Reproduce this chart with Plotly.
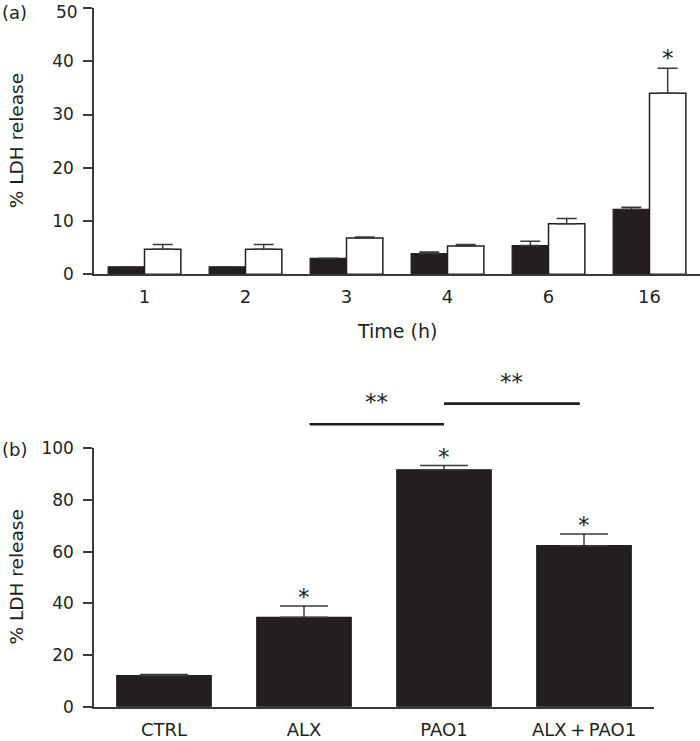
import plotly.graph_objects as go

# ---------------- data ----------------
# Panel (a)
time_labels = ["1", "2", "3", "4", "6", "16"]
black_a = [1.4, 1.4, 3.0, 3.9, 5.4, 12.2]
black_a_err = [0.0, 0.0, 0.0, 0.3, 0.8, 0.4]
white_a = [4.7, 4.7, 6.8, 5.3, 9.5, 34.0]
white_a_err = [0.9, 0.9, 0.2, 0.3, 1.0, 4.7]
star_a = ["", "", "", "", "", "*"]
yticks_a = [0, 10, 20, 30, 40, 50]

# Panel (b)
groups_b = ["CTRL", "ALX", "PAO1", "ALX\u2009+\u2009PAO1"]
vals_b = [12.0, 34.6, 91.7, 62.3]
err_b = [0.5, 4.4, 1.6, 4.5]
star_b = ["", "*", "*", "*"]
yticks_b = [0, 20, 40, 60, 80, 100]

# significance brackets (panel b): start index, end index, height, label
br_start = [1.04, 2.0]
br_end = [2.0, 2.97]
br_height = [109.3, 117.3]
br_label = ["**", "**"]

# ---------------- style ----------------
W, H = 700, 741
FONT = "DejaVu Sans"
INK = "#231f20"
AXC = "#3a3a3a"
TICK_SIZE = 17

ya_max, yb_max = yticks_a[-1], yticks_b[-1]
xa_dom = [94 / W, 1.0]
ya_dom = [1 - 274.3 / H, 1 - 8 / H]
xb_dom = [94 / W, 654 / W]
yb_dom = [1 - 706.7 / H, 1 - 448.3 / H]

fig = go.Figure()

wa = 0.36
fig.add_trace(go.Bar(
    x=time_labels, y=black_a, width=wa, offset=-wa,
    marker=dict(color=INK, line=dict(color=INK, width=1.2)),
    error_y=dict(type="data", array=black_a_err, arrayminus=[0] * len(black_a),
                 symmetric=False, thickness=1.5, width=10, color=AXC),
    xaxis="x", yaxis="y", showlegend=False))
fig.add_trace(go.Bar(
    x=time_labels, y=white_a, width=wa, offset=0,
    marker=dict(color="white", line=dict(color=INK, width=1.5)),
    error_y=dict(type="data", array=white_a_err, arrayminus=[0] * len(white_a),
                 symmetric=False, thickness=1.5, width=10, color=AXC),
    xaxis="x", yaxis="y", showlegend=False))

wb = 0.675
fig.add_trace(go.Bar(
    x=groups_b, y=vals_b, width=wb,
    marker=dict(color=INK, line=dict(color=INK, width=1.2)),
    error_y=dict(type="data", array=err_b, arrayminus=[0] * len(vals_b),
                 symmetric=False, thickness=1.5, width=24, color=AXC),
    xaxis="x2", yaxis="y2", showlegend=False))

STAR_FONT = dict(family=FONT, size=23, color=INK)
annotations = []
for i, s in enumerate(star_a):
    if s:
        annotations.append(dict(x=i, y=white_a[i] + white_a_err[i], xref="x", yref="y",
                                text=s, showarrow=False, xshift=101 * wa / 2,
                                yanchor="middle", yshift=10, font=STAR_FONT))
for i, s in enumerate(star_b):
    if s:
        annotations.append(dict(x=i, y=vals_b[i] + err_b[i], xref="x2", yref="y2",
                                text=s, showarrow=False,
                                yanchor="middle", yshift=9, font=STAR_FONT))

shapes = []
for x0, x1, h, lab in zip(br_start, br_end, br_height, br_label):
    shapes.append(dict(type="line", xref="x2", yref="y2 domain",
                       x0=x0, x1=x1, y0=h / yb_max, y1=h / yb_max,
                       line=dict(color=INK, width=2.7)))
    annotations.append(dict(x=(x0 + x1) / 2, y=h / yb_max, xref="x2", yref="y2 domain",
                            text=lab, showarrow=False, yanchor="middle", yshift=22,
                            font=STAR_FONT))

# top tick label of panel (a) kept inside the page edge
annotations.append(dict(x=80 / W, y=1.0, xref="paper", yref="paper", text=str(yticks_a[-1]),
                        showarrow=False, xanchor="right", yanchor="top",
                        font=dict(family=FONT, size=TICK_SIZE, color=INK)))

annotations += [
    dict(x=0.0, y=1 - 12 / H, xref="paper", yref="paper", text="(a)", showarrow=False,
         xanchor="left", yanchor="middle", font=dict(family=FONT, size=18, color=INK)),
    dict(x=0.0, y=1 - 450 / H, xref="paper", yref="paper", text="(b)", showarrow=False,
         xanchor="left", yanchor="middle", font=dict(family=FONT, size=18, color=INK)),
    dict(x=16 / W, y=sum(ya_dom) / 2, xref="paper", yref="paper", text="% LDH release",
         textangle=-90, showarrow=False, xanchor="center", yanchor="middle",
         font=dict(family=FONT, size=18.5, color=INK)),
    dict(x=16 / W, y=sum(yb_dom) / 2, xref="paper", yref="paper", text="% LDH release",
         textangle=-90, showarrow=False, xanchor="center", yanchor="middle",
         font=dict(family=FONT, size=18.5, color=INK)),
    dict(x=sum(xa_dom) / 2, y=1 - 331 / H, xref="paper", yref="paper", text="Time (h)",
         showarrow=False, xanchor="center", yanchor="middle",
         font=dict(family=FONT, size=19, color=INK)),
]

axis_common = dict(showline=True, linecolor=AXC, linewidth=1.5, showgrid=False,
                   zeroline=False, automargin=False, ticklabeloverflow="allow")
x_font = dict(family=FONT, size=18, color=INK)
y_font = dict(family=FONT, size=TICK_SIZE, color=INK)

fig.update_layout(
    template="none",
    width=W, height=H, margin=dict(l=0, r=0, t=0, b=0, autoexpand=False),
    paper_bgcolor="white", plot_bgcolor="white",
    xaxis=dict(domain=xa_dom, range=[-0.5, 5.5], type="category", ticks="",
               ticklabelstandoff=5, tickfont=x_font, anchor="y", **axis_common),
    yaxis=dict(domain=ya_dom, range=[0, ya_max], tickvals=yticks_a,
               ticktext=[str(v) for v in yticks_a[:-1]] + [""],
               ticks="outside", ticklen=9, tickwidth=1.5, tickcolor=AXC,
               ticklabelstandoff=6, tickfont=y_font, anchor="x", **axis_common),
    xaxis2=dict(domain=xb_dom, range=[-0.5, 3.5], type="category", ticks="",
                ticklabelstandoff=6, tickfont=x_font, anchor="y2", **axis_common),
    yaxis2=dict(domain=yb_dom, range=[0, yb_max], tickvals=yticks_b,
                ticks="outside", ticklen=9, tickwidth=1.5, tickcolor=AXC,
                ticklabelstandoff=6, tickfont=y_font, anchor="x2", **axis_common),
    annotations=annotations, shapes=shapes,
)

fig.write_html(
    "out.html",
    config={"displayModeBar": False},
    post_script="document.body.style.margin='0';document.body.style.overflow='hidden';",
)
